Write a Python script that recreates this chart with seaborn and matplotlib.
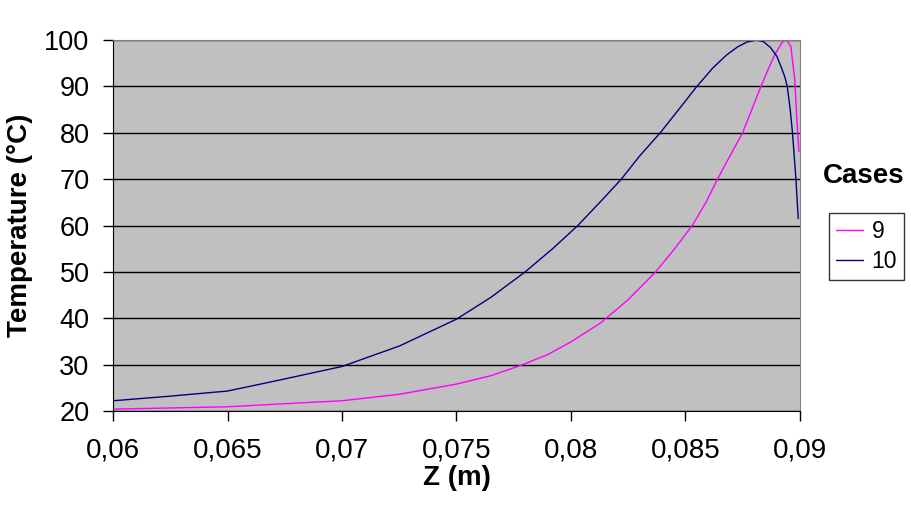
import numpy as np
import pandas as pd
import seaborn as sns
import matplotlib.pyplot as plt

# values
z_case9 = [0.0600, 0.0650, 0.0680, 0.0700, 0.0725, 0.0750, 0.0765, 0.0779, 0.0790, 0.0800,
           0.0813, 0.0825, 0.0837, 0.0845, 0.0853, 0.0859, 0.0864, 0.0870, 0.0875,
           0.0879, 0.0883, 0.0886, 0.0889, 0.0892, 0.0894, 0.08961, 0.08978, 0.08988, 0.08996]
t_case9 = [20.4, 20.9, 21.7, 22.2, 23.6, 25.8, 27.6, 30.0, 32.2, 34.9,
           39.0, 44.0, 50.0, 54.8, 60.0, 65.0, 70.0, 75.5, 80.0,
           85.0, 90.0, 93.5, 96.8, 99.3, 100.3, 98.6, 91.4, 82.0, 76.0]

z_case10 = [0.0600, 0.0625, 0.0650, 0.0673, 0.0700, 0.0725, 0.0750, 0.0765, 0.0780,
            0.0792, 0.0803, 0.0813, 0.0822, 0.0830, 0.0839, 0.0848, 0.0855, 0.0862,
            0.0868, 0.0873, 0.0877, 0.0881, 0.0884, 0.0887, 0.0890, 0.0892, 0.08935,
            0.08945, 0.08958, 0.08968, 0.08983, 0.08993]
t_case10 = [22.2, 23.2, 24.3, 26.7, 29.6, 34.0, 39.8, 44.5, 50.0,
            55.0, 60.0, 65.2, 70.0, 75.0, 80.0, 85.6, 90.0, 94.0,
            96.8, 98.6, 99.6, 100.0, 99.7, 98.5, 96.5, 94.0, 92.0,
            90.0, 85.0, 80.0, 70.0, 61.5]

case_names = ["9", "10"]
case_colors = ["#FF00FF", "#000080"]

df = pd.concat([
    pd.DataFrame({"Z": z_case9, "T": t_case9, "Cases": case_names[0]}),
    pd.DataFrame({"Z": z_case10, "T": t_case10, "Cases": case_names[1]}),
])

sns.set_style("white")
plt.rcParams["font.family"] = ["Liberation Sans", "DejaVu Sans"]
plt.rcParams["text.color"] = "black"
plt.rcParams["axes.labelcolor"] = "black"

fig = plt.figure(figsize=(9.12, 5.08), dpi=100)
ax = fig.add_axes([0.124, 0.191, 0.753, 0.730])
ax.set_facecolor("#C0C0C0")

sns.lineplot(data=df, x="Z", y="T", hue="Cases", palette=case_colors,
             estimator=None, sort=False, linewidth=1.0, ax=ax)

ax.set_xlim(0.06, 0.09)
ax.set_ylim(20, 100)
ax.set_xticks(np.arange(0.06, 0.0901, 0.005))
ax.set_xticklabels(["0,06", "0,065", "0,07", "0,075", "0,08", "0,085", "0,09"])
ax.set_yticks(range(20, 101, 10))
ax.tick_params(axis="both", direction="out", length=7, width=1,
               colors="black", labelcolor="black", left=True, bottom=True)
ax.tick_params(axis="x", labelsize=20, pad=12)
ax.tick_params(axis="y", labelsize=19.5, pad=10)
ax.yaxis.grid(True, color="black", linewidth=1)
ax.set_axisbelow(True)

for side in ["top", "right"]:
    ax.spines[side].set_color("#808080")
for side in ["left", "bottom"]:
    ax.spines[side].set_color("black")

ax.set_xlabel("Z (m)", fontsize=20, fontweight="bold", labelpad=1)
ax.set_ylabel("Temperature (°C)", fontsize=20, fontweight="bold", labelpad=8)

leg = ax.legend(loc="upper left", bbox_to_anchor=(829 / 912, 1 - 213 / 508),
                bbox_transform=fig.transFigure, borderaxespad=0, fontsize=16.5,
                frameon=True, fancybox=False, handlelength=1.2, handletextpad=0.35,
                borderpad=0.3, labelspacing=0.3)
leg.get_frame().set_edgecolor("black")
leg.get_frame().set_linewidth(1)
fig.text(864 / 912, 1 - 176 / 508, "Cases", fontsize=20, fontweight="bold",
         ha="center", va="center")

fig.savefig("out.png", dpi=100, facecolor="white")
